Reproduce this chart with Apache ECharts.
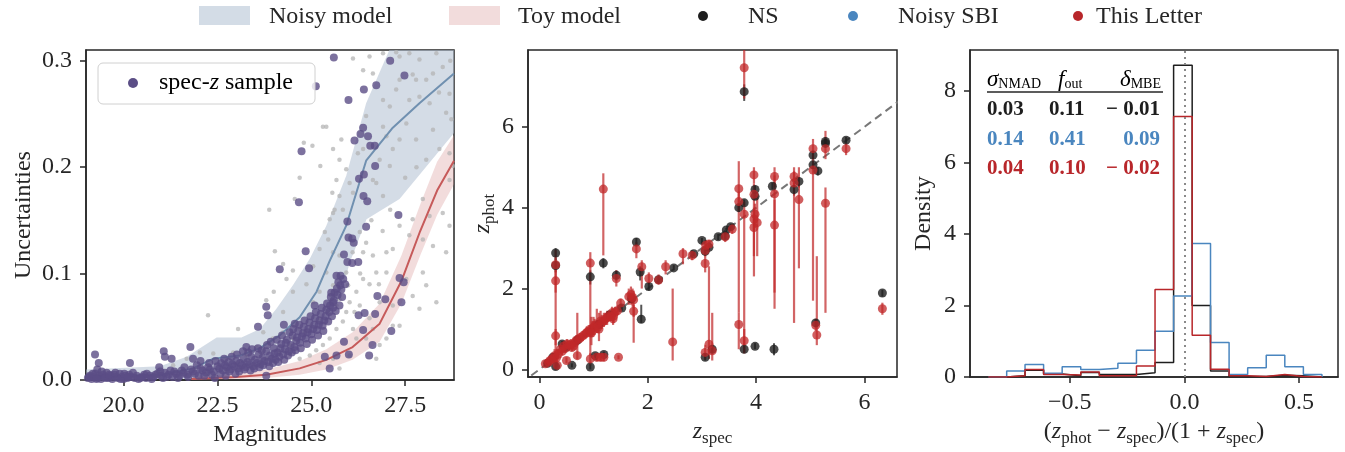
<!DOCTYPE html>
<html>
<head>
<meta charset="utf-8">
<script src="https://cdn.jsdelivr.net/npm/echarts@6/dist/echarts.min.js"></script>
<style>
  html, body { margin: 0; padding: 0; background: #fff; }
  #chart { width: 1345px; height: 452px; }
</style>
</head>
<body>
<div id="chart"></div>
<script>
// ---------- left panel: uncertainties vs magnitudes ----------
const magTicks = [20, 22.5, 25, 27.5];
const uncTicks = [0, 0.1, 0.2, 0.3];

const noisyLine = [[19.0,0.002],[20.0,0.004],[21.0,0.005],[21.85,0.011],[22.38,0.020],[23.1,0.023],[23.63,0.030],[24.16,0.042],[24.69,0.059],[25.14,0.083],[25.49,0.112],[25.93,0.145],[26.46,0.206],[27.17,0.237],[27.88,0.260],[28.8,0.288]];
const noisyUpper = [[19.0,0.010],[20.97,0.013],[21.68,0.022],[22.48,0.040],[23.14,0.040],[23.63,0.048],[24.07,0.067],[24.51,0.089],[24.96,0.114],[25.40,0.145],[25.93,0.192],[26.46,0.260],[27.09,0.311],[28.8,0.37]];
const noisyLower = [[19.0,0.0],[22.0,0.002],[22.48,0.006],[23.27,0.011],[24.07,0.020],[24.69,0.033],[25.22,0.048],[25.76,0.076],[26.02,0.110],[26.47,0.151],[27.35,0.170],[28.8,0.232]];

const toyLine = [[21.8,0.001],[23.0,0.003],[23.8,0.005],[24.69,0.011],[25.4,0.019],[26.1,0.031],[26.82,0.053],[27.4,0.093],[27.9,0.140],[28.35,0.178],[28.8,0.206]];
const toyUpper = [[21.8,0.003],[23.0,0.006],[23.8,0.010],[24.69,0.018],[25.4,0.029],[26.1,0.045],[26.82,0.072],[27.4,0.117],[27.9,0.165],[28.35,0.205],[28.8,0.230]];
const toyLower = [[21.8,0.0],[23.0,0.001],[23.8,0.002],[24.69,0.005],[25.4,0.010],[26.1,0.019],[26.82,0.036],[27.4,0.072],[27.9,0.117],[28.35,0.155],[28.8,0.184]];

const photoSample = [
  [22.25,0.061],[23.05,0.048],[23.80,0.075],[24.03,0.121],[24.25,0.109],[24.34,0.095],[24.51,0.103],[23.88,0.160],
  [24.56,0.170],[24.69,0.190],[24.80,0.223],[25.03,0.220],[25.24,0.201],[25.31,0.238],[25.56,0.176],[25.58,0.157],
  [25.36,0.139],[25.62,0.160],[25.45,0.132],[25.75,0.173],[25.84,0.160],[26.02,0.185],[26.11,0.176],[25.93,0.198],
  [26.24,0.213],[26.73,0.185],[26.82,0.207],[26.91,0.238],[26.91,0.263],[27.09,0.257],[27.26,0.273],[27.35,0.282],
  [27.70,0.287],[27.79,0.282],[28.06,0.282],[28.24,0.288],[28.50,0.294],[28.68,0.269],[28.59,0.251],[28.15,0.260],
  [27.88,0.266],[27.61,0.263],[27.53,0.241],[27.35,0.226],[27.17,0.217],[27.00,0.229],[27.79,0.226],[28.06,0.207],
  [28.24,0.235],[28.41,0.217],[28.77,0.201],[27.97,0.170],[28.15,0.154],[27.70,0.151],[27.61,0.136],[27.97,0.132],
  [28.50,0.157],[28.68,0.188],[28.24,0.126],[27.97,0.101],[27.88,0.067],[27.53,0.095],[26.55,0.304],[26.38,0.291],
  [26.11,0.302],[26.64,0.288],[26.91,0.307],[27.26,0.308],[27.35,0.304],[27.61,0.307],[27.88,0.301],[28.33,0.307],
  [26.46,0.248],[26.38,0.217],[26.64,0.188],[26.91,0.173],[27.09,0.201],[26.46,0.129],[26.38,0.120],[26.29,0.139],
  [26.64,0.117],[26.73,0.101],[26.55,0.090],[26.38,0.095],[26.20,0.083],[26.02,0.073],[25.93,0.064],[25.84,0.055],
  [25.67,0.048],[25.49,0.039],[25.31,0.033],[25.13,0.028],[24.96,0.023],[24.69,0.020],[26.11,0.048],[26.20,0.039],
  [26.02,0.023],[25.58,0.020],[25.22,0.016],[25.75,0.011],[26.46,0.039],[26.82,0.073],[27.00,0.101],[27.17,0.123],
  [27.35,0.145],[25.93,0.101],[25.75,0.117],[25.58,0.120],[25.40,0.101],[25.22,0.083],[25.05,0.073],[25.58,0.089],
  [25.75,0.076],[25.98,0.089],[26.15,0.064],[26.29,0.070],[26.55,0.058],[26.64,0.048],[26.82,0.033],[27.00,0.039],
  [27.17,0.051],[27.35,0.051],[26.73,0.020],[27.17,0.070],[27.70,0.079],[28.06,0.089],[28.33,0.073],[28.59,0.120],
  [28.68,0.145],[28.68,0.213],[28.73,0.245],[24.69,0.048],[24.43,0.033],[24.16,0.026],[23.80,0.020],[23.45,0.014],
  [23.10,0.011],[22.74,0.008],[22.21,0.006],[21.68,0.005],[20.97,0.003],[20.26,0.003],[19.73,0.004],[19.37,0.006],
  [19.11,0.005],[21.32,0.014],[21.68,0.020],[22.03,0.026],[22.39,0.025],[22.74,0.020],[22.92,0.026],[23.27,0.023],
  [23.54,0.031],[23.72,0.045],[23.98,0.039],[24.25,0.045],[24.51,0.039],[24.82,0.045],[24.99,0.051],[25.22,0.058],
  [25.44,0.064],[25.67,0.070],[24.25,0.064],[24.00,0.083],[24.51,0.083],[24.87,0.090],[25.05,0.107],[25.22,0.123],
  [25.49,0.151],[25.67,0.188],[25.75,0.207],[25.80,0.226],[25.58,0.217],[25.40,0.238],[26.9,0.14],[27.1,0.16],
  [26.6,0.15],[27.0,0.12],[26.8,0.09],[26.3,0.10],[26.1,0.12],[27.5,0.19],[27.8,0.20],[28.4,0.27],[28.7,0.30]
];

const specSample = [
  [25.12,0.276],[25.60,0.303],[27.10,0.300],[27.48,0.286],[26.40,0.273],[26.73,0.277],[25.99,0.263],[26.38,0.237],
  [26.31,0.231],[26.51,0.229],[26.15,0.225],[26.57,0.220],[26.69,0.220],[24.74,0.215],[26.70,0.201],[26.40,0.193],
  [26.27,0.189],[26.39,0.173],[26.49,0.168],[24.67,0.167],[27.32,0.155],[25.96,0.149],[26.46,0.144],[25.99,0.134],
  [26.09,0.133],[26.13,0.129],[24.85,0.121],[25.87,0.118],[25.96,0.111],[26.09,0.110],[26.25,0.111],[24.94,0.105],
  [24.16,0.104],[25.67,0.098],[25.78,0.098],[25.77,0.089],[25.53,0.082],[26.76,0.079],[26.97,0.076],[27.35,0.096],
  [27.46,0.092],[27.40,0.073],[23.80,0.069],[25.09,0.070],[25.58,0.073],[25.82,0.078],[23.84,0.061],[26.26,0.061],
  [26.42,0.063],[26.70,0.062],[27.13,0.046],[25.87,0.036],[26.38,0.047],[26.63,0.033],[26.54,0.023],[26.00,0.024],
  [25.49,0.011],[25.36,0.022],[25.67,0.023],[23.80,0.004],[22.43,0.002],[23.58,0.050],[24.27,0.052],[24.56,0.053],
  [21.78,0.031],[21.07,0.027],[19.24,0.024],[19.34,0.016],[20.17,0.016],[21.28,0.020],[21.85,0.020],[22.05,0.018],
  [23.27,0.031],[19.30,0.010],[21.10,0.022],[20.95,0.012],
  [19.05,0.002],[19.10,0.004],[19.15,0.001],[19.20,0.003],[19.25,0.006],[19.30,0.002],[19.35,0.004],[19.40,0.001],
  [19.45,0.005],[19.50,0.003],[19.55,0.007],[19.60,0.002],[19.65,0.004],[19.70,0.001],[19.75,0.005],[19.80,0.003],
  [19.85,0.002],[19.90,0.006],[19.95,0.003],[20.00,0.001],[20.05,0.004],[20.10,0.002],[20.15,0.005],[20.20,0.003],
  [20.30,0.002],[20.35,0.004],[20.40,0.001],[20.50,0.003],[20.55,0.005],[20.60,0.002],[20.70,0.004],[20.80,0.003],
  [20.90,0.006],[21.00,0.004],[21.05,0.002],[21.10,0.007],[21.20,0.005],[21.30,0.003],[21.35,0.008],[21.40,0.006],
  [21.50,0.004],[21.55,0.009],[21.60,0.007],[21.70,0.005],[21.80,0.010],[21.85,0.008],[21.90,0.006],[22.00,0.004],
  [22.05,0.011],[22.10,0.009],[22.20,0.007],[22.25,0.012],[22.30,0.010],[22.40,0.008],[22.50,0.013],[22.55,0.011],
  [22.60,0.016],[22.65,0.009],[22.70,0.014],[22.75,0.012],[22.80,0.017],[22.85,0.010],[22.90,0.015],[22.95,0.013],
  [23.00,0.018],[23.05,0.011],[23.10,0.016],[23.15,0.014],[23.20,0.020],[23.25,0.012],[23.30,0.017],[23.35,0.015],
  [23.40,0.022],[23.45,0.013],[23.50,0.019],[23.55,0.016],[23.60,0.024],[23.65,0.015],[23.70,0.021],[23.75,0.018],
  [23.80,0.027],[23.85,0.017],[23.90,0.023],[23.95,0.020],[24.00,0.030],[24.05,0.019],[24.10,0.026],[24.15,0.022],
  [24.20,0.034],[24.25,0.024],[24.30,0.029],[24.35,0.038],[24.40,0.027],[24.45,0.033],[24.50,0.042],[24.55,0.031],
  [24.60,0.037],[24.65,0.046],[24.70,0.035],[24.75,0.041],[24.80,0.050],[24.85,0.039],[24.90,0.045],[24.95,0.054],
  [25.00,0.043],[25.05,0.048],[25.10,0.058],[25.15,0.047],[25.20,0.052],[25.25,0.062],[25.30,0.051],[25.35,0.056],
  [25.40,0.066],[25.45,0.055],[25.50,0.070],[25.55,0.060],[25.60,0.075],[25.65,0.065],[25.70,0.080],[25.75,0.070],
  [25.80,0.085],[25.90,0.090],
  [19.08,0.003],[19.18,0.006],[19.28,0.001],[19.42,0.008],[19.52,0.002],[19.62,0.005],[19.78,0.007],[19.92,0.001],
  [20.02,0.006],[20.12,0.003],[20.25,0.007],[20.45,0.002],[20.62,0.006],[20.75,0.001],[20.85,0.005],[20.98,0.008],
  [21.15,0.003],[21.25,0.009],[21.45,0.002],[21.62,0.012],[21.72,0.003],[21.95,0.014],[22.15,0.004],[22.28,0.016],
  [22.35,0.005],[22.45,0.018],[22.58,0.006],[22.68,0.020],[22.72,0.004],[22.82,0.008],[22.88,0.022],[22.98,0.006],
  [23.02,0.024],[23.08,0.008],[23.18,0.027],[23.22,0.010],[23.32,0.026],[23.38,0.009],[23.42,0.029],[23.48,0.011],
  [23.58,0.030],[23.62,0.012],[23.68,0.028],[23.72,0.014],[23.82,0.033],[23.88,0.013],[23.92,0.036],[23.98,0.016],
  [24.02,0.025],[24.08,0.038],[24.12,0.017],[24.18,0.030],[24.22,0.042],[24.28,0.019],[24.32,0.035],[24.38,0.023],
  [24.42,0.045],[24.48,0.026],[24.52,0.048],[24.58,0.028],[24.62,0.040],[24.68,0.052],[24.72,0.030],[24.78,0.044],
  [24.82,0.056],[24.88,0.034],[24.92,0.048],[24.98,0.060],[25.02,0.038],[25.08,0.052],[25.12,0.064],[25.18,0.042],
  [25.22,0.056],[25.28,0.068],[25.32,0.046],[25.38,0.060],[25.42,0.072],[25.48,0.064],[25.52,0.078],[25.58,0.068],
  [25.62,0.082],[25.68,0.086],[25.72,0.092],[25.85,0.095]
];

// ---------- middle panel: z_phot vs z_spec  [zspec, zphot, lo, hi] ----------
const zTicks = [0, 2, 4, 6];
const diagEnds = [-0.15, 6.8];

const nsPoints = [
  [3.78,6.87,6.64,7.05],[0.30,2.88,2.7,3.0],[0.30,2.57,2.4,2.75],[0.94,2.29,2.1,2.45],[0.94,0.06,0.0,0.12],
  [1.18,2.63,2.5,2.75],[1.42,2.33,2.2,2.45],[1.52,1.52,1.45,1.6],[1.79,3.15,3.05,3.25],[1.86,2.41,2.2,2.55],
  [1.88,1.24,1.15,1.6],[2.02,2.05,1.95,2.15],[2.48,2.51,2.45,2.58],[2.85,2.86,2.8,2.92],[3.00,3.19,3.1,3.25],
  [3.06,2.92,2.85,3.0],[3.06,0.30,0.22,0.38],[3.13,3.02,2.95,3.1],[3.19,0.50,0.42,0.6],[3.43,3.30,3.22,3.38],
  [3.53,3.53,3.45,3.6],[3.68,4.00,3.9,4.1],[3.78,4.12,4.05,4.2],[3.78,0.50,0.42,0.58],[3.98,4.45,4.35,4.55],
  [3.98,4.28,4.2,4.4],[3.98,0.57,0.5,0.65],[4.30,4.53,4.45,4.62],[4.33,0.50,0.35,0.65],[4.70,4.45,4.3,4.6],
  [4.79,4.65,4.5,4.75],[5.05,5.30,5.2,5.4],[5.05,5.06,4.95,5.15],[5.14,4.91,4.8,5.0],[5.10,1.15,1.05,1.25],
  [5.28,5.64,5.55,5.75],[5.28,5.59,5.5,5.7],[5.66,5.67,5.6,5.75],[6.33,1.89,1.8,1.97],
  [0.30,0.07,0.0,0.12],[0.42,0.63,0.55,0.7],[0.60,0.10,0.05,0.15],[1.03,0.34,0.28,0.4],[1.19,0.37,0.3,0.44],
  [0.15,0.15,0.1,0.2],[0.25,0.30,0.2,0.4],[0.50,0.55,0.5,0.6],[0.70,0.72,0.65,0.8],[1.10,1.12,1.05,1.2],
  [1.30,1.35,1.28,1.42],[1.70,1.75,1.68,1.82],[2.20,2.22,2.15,2.3],[3.45,3.45,3.4,3.5],[3.30,3.28,3.2,3.35]
];

const letterPoints = [
  [3.78,7.46,6.7,8.3],[1.18,4.46,2.82,4.85],[0.30,2.59,0.0,2.95],[0.30,2.19,1.9,2.5],[0.30,0.83,0.6,1.0],
  [0.94,2.63,0.34,2.9],[0.94,0.26,0.1,0.4],[1.42,2.25,2.05,2.45],[1.50,1.64,1.5,1.75],[1.79,2.98,2.75,3.15],
  [1.89,2.54,2.0,2.7],[1.74,1.72,1.3,1.95],[1.74,1.44,0.66,1.6],[2.02,2.25,2.1,2.4],[2.20,2.21,2.1,2.35],
  [2.33,2.54,2.35,2.7],[2.46,0.68,0.22,2.0],[2.65,2.86,2.6,3.0],[2.82,2.82,2.7,2.95],[3.07,3.07,2.95,3.2],
  [3.06,2.94,2.8,3.1],[3.06,2.62,2.4,2.85],[3.06,0.42,0.25,0.6],[3.13,0.62,0.26,2.55],[3.13,3.10,3.0,3.2],
  [3.19,0.46,0.22,1.4],[3.43,3.28,3.15,3.4],[3.56,3.47,3.35,3.6],[3.68,4.47,1.4,5.15],[3.68,4.15,3.9,4.4],
  [3.68,1.11,0.5,1.4],[3.78,3.84,0.4,4.15],[3.78,0.71,0.4,1.0],[3.96,4.81,4.6,5.0],[3.96,4.33,2.3,4.6],
  [3.98,3.84,3.5,4.1],[3.96,3.72,3.4,4.0],[3.96,3.51,2.8,3.8],[4.02,3.63,2.8,4.3],[4.34,4.34,1.5,4.8],
  [4.34,4.77,4.5,5.0],[4.34,3.57,1.9,4.2],[4.70,4.77,4.5,5.0],[4.70,4.61,1.15,4.9],[4.79,4.20,2.5,5.0],
  [5.05,5.46,5.2,5.7],[5.05,4.93,1.7,5.3],[5.10,1.09,0.95,1.25],[5.12,0.85,0.6,2.8],[5.28,5.46,5.2,5.9],
  [5.28,4.11,1.4,4.5],[5.66,5.46,5.3,5.6],[6.33,1.50,1.35,1.65],
  [0.11,0.14,0.08,0.2],[0.17,0.18,0.1,0.25],[0.23,0.26,0.15,0.35],[0.28,0.34,0.2,0.5],[0.33,0.10,0.0,0.2],
  [0.39,0.50,0.4,0.6],[0.51,0.63,0.55,0.75],[0.60,0.54,0.45,0.65],[0.66,0.67,0.55,0.8],[0.70,0.34,0.25,1.4],
  [0.73,0.75,0.65,0.85],[0.76,0.79,0.7,0.9],[0.50,0.22,0.15,0.3],[0.94,0.95,0.8,1.1],[1.00,1.03,0.85,1.3],
  [1.06,1.11,0.9,1.5],[1.13,1.20,1.0,1.45],[1.19,1.20,1.05,1.4],[1.28,1.32,1.2,1.45],[1.34,1.40,1.25,1.55],
  [1.37,1.32,1.15,1.5],[1.06,0.30,0.2,0.4],[1.13,0.30,0.2,0.4],[1.19,0.30,0.2,0.4],[1.46,0.30,0.25,0.35],
  [1.65,1.80,1.6,2.0],[1.69,1.85,1.6,2.05],[0.45,0.58,0.45,0.7],[0.55,0.60,0.5,0.7],[0.85,0.88,0.75,1.0],
  [0.98,0.95,0.8,1.2],[1.25,1.28,1.1,1.45],[0.20,0.22,0.1,0.3],[0.27,0.28,0.15,0.4],[0.32,0.30,0.1,0.5],
  [0.35,0.38,0.25,0.5],[0.42,0.45,0.35,0.55],[0.48,0.52,0.4,0.65],[0.58,0.62,0.5,0.75],[0.63,0.58,0.5,0.7],
  [0.68,0.72,0.6,0.85],[0.80,0.83,0.7,0.95],[0.88,0.92,0.8,1.05],[0.92,0.98,0.85,1.1],[1.02,1.08,0.95,1.25],
  [1.08,1.05,0.9,1.2],[1.15,1.15,1.0,1.35],[1.22,1.25,1.1,1.4],[1.32,1.30,1.2,1.45],[1.40,1.42,1.3,1.55],
  [1.44,1.45,1.35,1.6],[1.72,1.78,1.55,2.0],[1.36,1.25,1.1,1.4],[0.96,0.90,0.6,1.3],[1.10,1.00,0.7,1.4]
];

// ---------- right panel: histogram of (zphot - zspec)/(1 + zspec) ----------
const resTicks = [-0.5, 0, 0.5];
const densTicks = [0, 2, 4, 6, 8];
const binEdges = [-0.855,-0.775,-0.695,-0.614,-0.533,-0.452,-0.371,-0.290,-0.209,-0.128,-0.047,0.034,0.114,0.195,0.276,0.357,0.438,0.519,0.600];
const nsDensity     = [0, 0.04, 0.19, 0.09, 0.04, 0.13, 0.07, 0.07, 0.12, 0.41, 8.72, 2.00, 0.17, 0.02, 0.02, 0.05, 0.04, 0.00];
const noisyDensity  = [0, 0.17, 0.35, 0.11, 0.29, 0.21, 0.25, 0.39, 0.75, 1.28, 2.27, 3.74, 0.97, 0.07, 0.26, 0.61, 0.29, 0.07];
const letterDensity = [0, 0.04, 0.21, 0.07, 0.06, 0.14, 0.04, 0.04, 0.31, 2.45, 7.29, 1.17, 0.22, 0.04, 0.02, 0.07, 0.02, 0.00];

const metricColors = ['#1e1e1e', '#4a86bf', '#b8262a'];
const metricRows = [['0.03', '0.11', '\u2212 0.01'], ['0.14', '0.41', '0.09'], ['0.04', '0.10', '\u2212 0.02']];

// ---------- styling ----------
const FONT = 'Liberation Serif';
const INK = '#262626';
// main glyphs sit at the top of a slightly taller line box, subscripts at its bottom
const sub = {
  i: { fontFamily: FONT, fontSize: 24, fontStyle: 'italic', color: INK, lineHeight: 27, verticalAlign: 'top' },
  n: { fontFamily: FONT, fontSize: 24, color: INK, lineHeight: 27, verticalAlign: 'top' },
  s: { fontFamily: FONT, fontSize: 17, color: INK, lineHeight: 17, verticalAlign: 'bottom' }
};

function histPath(edges, heights) {
  const pts = [[edges[0], 0]];
  heights.forEach((h, i) => {
    pts.push([edges[i], h]);
    pts.push([edges[i + 1], h]);
  });
  pts.push([edges[edges.length - 1], 0]);
  return pts;
}

function bandSeries(upper, lower, fill, opacity) {
  return {
    type: 'custom', xAxisIndex: 0, yAxisIndex: 0, data: [[upper[0][0], upper[0][1]]], z: 1,
    renderItem: (params, api) => {
      const pts = upper.map(p => api.coord(p)).concat(lower.slice().reverse().map(p => api.coord(p)));
      const cs = params.coordSys;
      return {
        type: 'polygon', shape: { points: pts }, style: { fill: fill, opacity: opacity },
        clipPath: { type: 'rect', shape: { x: cs.x, y: cs.y, width: cs.width, height: cs.height } }
      };
    }
  };
}

function errorBars(points, color, opacity, width) {
  return {
    type: 'custom', xAxisIndex: 1, yAxisIndex: 1, data: points,
    encode: { x: 0, y: [1, 2, 3] },
    renderItem: (params, api) => {
      const a = api.coord([api.value(0), api.value(2)]);
      const b = api.coord([api.value(0), api.value(3)]);
      const cs = params.coordSys;
      return {
        type: 'line', shape: { x1: a[0], y1: a[1], x2: b[0], y2: b[1] },
        style: { stroke: color, lineWidth: width, opacity: opacity },
        clipPath: { type: 'rect', shape: { x: cs.x, y: cs.y, width: cs.width, height: cs.height } }
      };
    }
  };
}

function axisCommon(ticks, fmt) {
  return {
    axisLine: { show: true, onZero: false, lineStyle: { color: INK, width: 1.5 } },
    axisTick: { show: true, inside: false, length: 6, lineStyle: { color: INK, width: 1.5 }, customValues: ticks },
    axisLabel: { customValues: ticks, formatter: fmt, fontFamily: FONT, fontSize: 24, color: INK, margin: 14 },
    splitLine: { show: false }
  };
}

const fmt1 = v => (v < 0 ? '\u2212' : '') + Math.abs(v).toFixed(1);
const fmt0 = v => String(v);

const myChart = echarts.init(document.getElementById('chart'));

const graphics = [];
// top legend
graphics.push({ type: 'rect', shape: { x: 199, y: 6, width: 51, height: 19 }, style: { fill: '#d3dce6' } });
graphics.push({ type: 'rect', shape: { x: 449, y: 6, width: 51, height: 19 }, style: { fill: '#f2dcdc' } });
[['Noisy model', 269], ['Toy model', 518], ['NS', 748], ['Noisy SBI', 898], ['This Letter', 1096]].forEach(t => {
  graphics.push({ type: 'text', style: { text: t[0], x: t[1], y: 17, font: '24px "' + FONT + '"', fill: INK, textVerticalAlign: 'middle' } });
});
[[703, '#1e1e1e'], [853, '#4a86bf'], [1078, '#b8262a']].forEach(d => {
  graphics.push({ type: 'circle', shape: { cx: d[0], cy: 16, r: 5 }, style: { fill: d[1] } });
});
// left panel legend box
graphics.push({ type: 'rect', z: 100, shape: { x: 98, y: 63, width: 217, height: 41, r: 5 }, style: { fill: 'rgba(255,255,255,0.8)', stroke: '#d0d0d0', lineWidth: 1 } });
graphics.push({ type: 'circle', z: 101, shape: { cx: 133, cy: 83, r: 5 }, style: { fill: '#5b4e86' } });
graphics.push({ type: 'text', z: 101, style: { text: '{n|spec-}{i|z}{n| sample}', x: 159, y: 83, textVerticalAlign: 'middle', rich: { n: { fontFamily: FONT, fontSize: 24, color: INK }, i: { fontFamily: FONT, fontSize: 24, fontStyle: 'italic', color: INK } } } });
// metrics table in right panel
const hdrRich = {
  g: { fontFamily: FONT, fontSize: 23, fontStyle: 'italic', color: INK, lineHeight: 23, verticalAlign: 'top' },
  s: { fontFamily: FONT, fontSize: 14, color: INK, lineHeight: 14, verticalAlign: 'bottom' }
};
graphics.push({ type: 'text', style: { text: '{g|σ}{s|NMAD}', x: 987, y: 80, textVerticalAlign: 'middle', rich: hdrRich } });
graphics.push({ type: 'text', style: { text: '{g|f}{s|out}', x: 1058, y: 80, textVerticalAlign: 'middle', rich: hdrRich } });
graphics.push({ type: 'text', style: { text: '{g|δ}{s|MBE}', x: 1161, y: 80, textAlign: 'right', textVerticalAlign: 'middle', rich: hdrRich } });
graphics.push({ type: 'line', shape: { x1: 987, y1: 92, x2: 1163, y2: 92 }, style: { stroke: INK, lineWidth: 1.5 } });
metricRows.forEach((row, r) => {
  const y = 110 + r * 29.5;
  const font = 'bold 21px "' + FONT + '"';
  graphics.push({ type: 'text', style: { text: row[0], x: 987, y: y, font: font, fill: metricColors[r], textVerticalAlign: 'middle' } });
  graphics.push({ type: 'text', style: { text: row[1], x: 1049, y: y, font: font, fill: metricColors[r], textVerticalAlign: 'middle' } });
  graphics.push({ type: 'text', style: { text: row[2], x: 1160, y: y, font: font, fill: metricColors[r], textAlign: 'right', textVerticalAlign: 'middle' } });
});

myChart.setOption({
  backgroundColor: '#fff',
  animation: false,
  grid: [
    { left: 86, right: 891, top: 50, bottom: 70, show: true, borderColor: INK, borderWidth: 1.5 },
    { left: 528, right: 448, top: 50, bottom: 70, show: true, borderColor: INK, borderWidth: 1.5 },
    { left: 970, right: 7, top: 50, bottom: 70, show: true, borderColor: INK, borderWidth: 1.5 }
  ],
  xAxis: [
    Object.assign({ type: 'value', gridIndex: 0, min: 19.0, max: 28.8, name: 'Magnitudes', nameLocation: 'middle', nameGap: 40,
      nameTextStyle: { fontFamily: FONT, fontSize: 24, color: INK } }, axisCommon(magTicks, fmt1)),
    Object.assign({ type: 'value', gridIndex: 1, min: -0.21, max: 6.6, name: '{i|z}{s|spec}', nameLocation: 'middle', nameGap: 40,
      nameTextStyle: { rich: sub } }, axisCommon(zTicks, fmt0)),
    Object.assign({ type: 'value', gridIndex: 2, min: -0.935, max: 0.67, name: '{n|(}{i|z}{s|phot}{n| \u2212 }{i|z}{s|spec}{n|)/(1 + }{i|z}{s|spec}{n|)}',
      nameLocation: 'middle', nameGap: 38, nameTextStyle: { rich: sub } }, axisCommon(resTicks, fmt1))
  ],
  yAxis: [
    Object.assign({ type: 'value', gridIndex: 0, min: 0, max: 0.31, name: 'Uncertainties', nameLocation: 'middle', nameGap: 50,
      nameTextStyle: { fontFamily: FONT, fontSize: 24, color: INK } }, axisCommon(uncTicks, fmt1)),
    Object.assign({ type: 'value', gridIndex: 1, min: -0.19, max: 7.9, name: '{i|z}{s|phot}', nameLocation: 'middle', nameGap: 30,
      nameTextStyle: { rich: sub } }, axisCommon(zTicks, fmt0)),
    Object.assign({ type: 'value', gridIndex: 2, min: 0, max: 9.15, name: 'Density', nameLocation: 'middle', nameGap: 34,
      nameTextStyle: { fontFamily: FONT, fontSize: 24, color: INK } }, axisCommon(densTicks, fmt0))
  ],
  graphic: graphics,
  series: [
    bandSeries(noisyUpper, noisyLower, '#b0c0d2', 0.55),
    bandSeries(toyUpper, toyLower, '#d99a9a', 0.35),
    { type: 'scatter', name: 'photometric', xAxisIndex: 0, yAxisIndex: 0, data: photoSample, symbolSize: 4.5,
      itemStyle: { color: '#b4b4b4', opacity: 0.75 }, z: 2 },
    { type: 'line', name: 'Noisy model', xAxisIndex: 0, yAxisIndex: 0, data: noisyLine, showSymbol: false,
      lineStyle: { color: '#7090b0', width: 2 }, z: 3 },
    { type: 'line', name: 'Toy model', xAxisIndex: 0, yAxisIndex: 0, data: toyLine, showSymbol: false,
      lineStyle: { color: '#c65a5a', width: 2 }, z: 3 },
    { type: 'scatter', name: 'spec-z sample', xAxisIndex: 0, yAxisIndex: 0, data: specSample, symbolSize: 8,
      itemStyle: { color: '#5b4e86' }, z: 4 },

    { type: 'line', xAxisIndex: 1, yAxisIndex: 1, data: diagEnds.map(v => [v, v]), showSymbol: false, z: 1,
      lineStyle: { color: '#777', width: 2, type: [8, 5] } },
    errorBars(nsPoints, '#2a2a2a', 0.8, 2),
    { type: 'scatter', name: 'NS', xAxisIndex: 1, yAxisIndex: 1, data: nsPoints.map(p => [p[0], p[1]]), symbolSize: 9,
      itemStyle: { color: '#1e1e1e', opacity: 0.8 } },
    errorBars(letterPoints, '#c0282a', 0.72, 2.2),
    { type: 'scatter', name: 'This Letter', xAxisIndex: 1, yAxisIndex: 1, data: letterPoints.map(p => [p[0], p[1]]), symbolSize: 9,
      itemStyle: { color: '#c0282a', opacity: 0.75 } },

    { type: 'line', name: 'NS', xAxisIndex: 2, yAxisIndex: 2, data: histPath(binEdges, nsDensity), showSymbol: false,
      lineStyle: { color: '#1e1e1e', width: 1.5 },
      markLine: { silent: true, symbol: 'none', label: { show: false }, data: [{ xAxis: 0 }],
        lineStyle: { color: '#8a8a8a', width: 2, type: [2, 4] } } },
    { type: 'line', name: 'Noisy SBI', xAxisIndex: 2, yAxisIndex: 2, data: histPath(binEdges, noisyDensity), showSymbol: false,
      lineStyle: { color: '#4a86bf', width: 1.5 } },
    { type: 'line', name: 'This Letter', xAxisIndex: 2, yAxisIndex: 2, data: histPath(binEdges, letterDensity), showSymbol: false,
      lineStyle: { color: '#b8262a', width: 1.5 } }
  ]
});
</script>
</body>
</html>
